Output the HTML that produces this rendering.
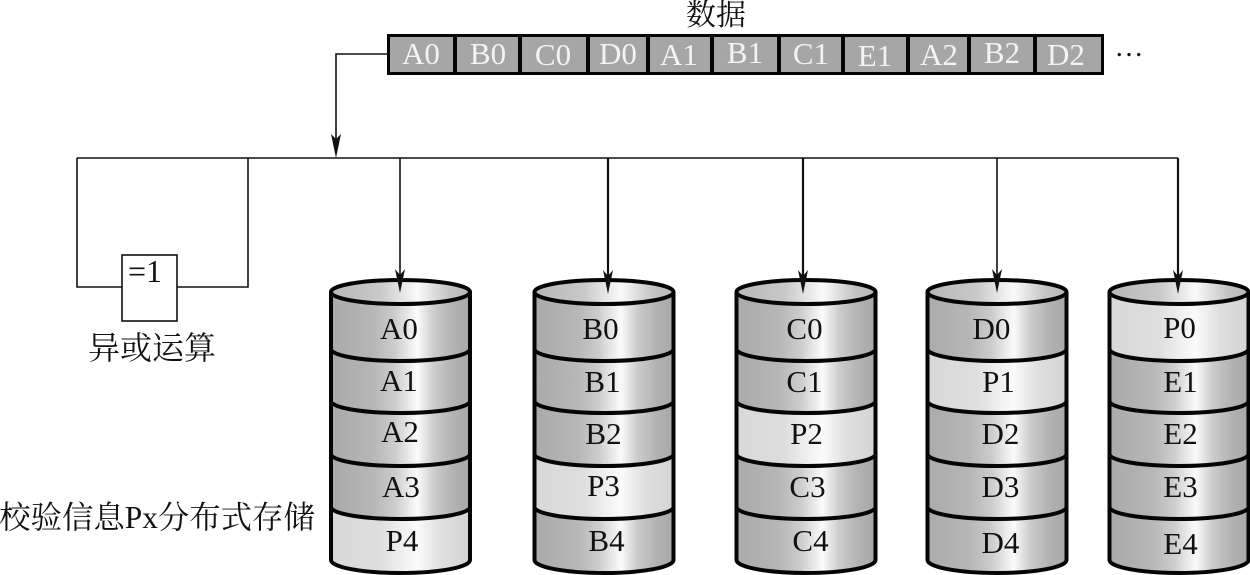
<!DOCTYPE html>
<html>
<head>
<meta charset="utf-8">
<style>
html,body{margin:0;padding:0;background:#fff;width:1250px;height:575px;overflow:hidden}
svg{display:block}
text{font-family:"Liberation Serif","Noto Serif CJK SC",serif;fill:#111}
.c{font-size:31px;text-anchor:middle}
.w{font-size:31px;text-anchor:middle;fill:#f4f4f4}
.l{stroke:#111;stroke-width:1.6;fill:none}
.b{stroke:#111;stroke-width:2.2;fill:none}
.o{stroke:#050505;stroke-width:4;fill:none}
</style>
</head>
<body>
<svg width="1250" height="575" viewBox="0 0 1250 575" xmlns="http://www.w3.org/2000/svg">
<defs>
<linearGradient id="g"><stop offset="0" stop-color="#aaaaaa"/><stop offset=".3" stop-color="#b6b6b6"/><stop offset=".46" stop-color="#cccccc"/><stop offset=".62" stop-color="#fbfbfb"/><stop offset=".74" stop-color="#cccccc"/><stop offset=".88" stop-color="#b2b2b2"/><stop offset="1" stop-color="#a8a8a8"/></linearGradient>
<linearGradient id="p"><stop offset="0" stop-color="#d8d8d8"/><stop offset=".35" stop-color="#dedede"/><stop offset=".62" stop-color="#fbfbfb"/><stop offset=".8" stop-color="#dedede"/><stop offset="1" stop-color="#d4d4d4"/></linearGradient>
<linearGradient id="t"><stop offset="0" stop-color="#b8b8b8"/><stop offset=".35" stop-color="#c8c8c8"/><stop offset=".62" stop-color="#fafafa"/><stop offset=".85" stop-color="#c4c4c4"/><stop offset="1" stop-color="#b8b8b8"/></linearGradient>
</defs>

<!-- data bar -->
<rect x="387" y="34" width="717" height="41" fill="#050505"/>
<g fill="#a6a6a6">
<rect x="390" y="37" width="63" height="35"/><rect x="457" y="37" width="61" height="35"/><rect x="522" y="37" width="64" height="35"/><rect x="590" y="37" width="56" height="35"/><rect x="650" y="37" width="60" height="35"/><rect x="714" y="37" width="63" height="35"/><rect x="781" y="37" width="60" height="35"/><rect x="845" y="37" width="61" height="35"/><rect x="910" y="37" width="57" height="35"/><rect x="971" y="37" width="62" height="35"/><rect x="1037" y="37" width="64" height="35"/>
</g>
<g>
<text class="w" x="421" y="64">A0</text><text class="w" x="488" y="64">B0</text><text class="w" x="553" y="65">C0</text><text class="w" x="618" y="64">D0</text><text class="w" x="679" y="65">A1</text><text class="w" x="745" y="63">B1</text><text class="w" x="811" y="64">C1</text><text class="w" x="875" y="66">E1</text><text class="w" x="939" y="65">A2</text><text class="w" x="1002" y="63">B2</text><text class="w" x="1066" y="65">D2</text>
</g>
<text x="716" y="25" font-size="30" text-anchor="middle">数据</text>
<text x="1129" y="56" font-size="29" text-anchor="middle">…</text>

<!-- bus -->
<path class="l" d="M388 54H336V140"/>
<path d="M336 158L331 134L336 139L341 134Z" fill="#111"/>
<path class="l" d="M77 158H1178"/>
<path class="l" d="M77 158V287H122M248 158V287H177"/>
<rect x="122" y="255" width="55" height="66" fill="#fff" stroke="#111" stroke-width="1.6"/>
<text x="145" y="282" font-size="32" text-anchor="middle">=1</text>
<text x="152" y="359" font-size="32" text-anchor="middle">异或运算</text>
<text x="157" y="528" font-size="31.400" text-anchor="middle">校验信息Px分布式存储</text>

<!-- cylinder 1 -->
<g transform="translate(331,0)">
<path d="M0 292V560A69.500 13 0 0 0 139 560V292Z" fill="url(#g)"/>
<path d="M0 507A69.500 12 0 0 0 139 507V560A69.500 13 0 0 1 0 560Z" fill="url(#p)"/>
<ellipse cx="69.500" cy="292" rx="69.500" ry="12" fill="url(#t)" stroke="#050505" stroke-width="4"/>
<path class="o" d="M0 349A69.500 12 0 0 0 139 349M0 401A69.500 12 0 0 0 139 401M0 454A69.500 12 0 0 0 139 454M0 507A69.500 12 0 0 0 139 507"/>
<path class="o" d="M0 292V560A69.500 13 0 0 0 139 560V292"/>
<text class="c" x="68" y="339">A0</text><text class="c" x="68" y="391">A1</text><text class="c" x="69" y="442">A2</text><text class="c" x="70" y="497">A3</text><text class="c" x="71" y="551">P4</text>
</g>
<!-- cylinder 2 -->
<g transform="translate(534.500,0)">
<path d="M0 292V560A69.500 13 0 0 0 139 560V292Z" fill="url(#g)"/>
<path d="M0 454A69.500 12 0 0 0 139 454V507A69.500 12 0 0 1 0 507Z" fill="url(#p)"/>
<ellipse cx="69.500" cy="292" rx="69.500" ry="12" fill="url(#t)" stroke="#050505" stroke-width="4"/>
<path class="o" d="M0 349A69.500 12 0 0 0 139 349M0 401A69.500 12 0 0 0 139 401M0 454A69.500 12 0 0 0 139 454M0 507A69.500 12 0 0 0 139 507"/>
<path class="o" d="M0 292V560A69.500 13 0 0 0 139 560V292"/>
<text class="c" x="66" y="339">B0</text><text class="c" x="68" y="392">B1</text><text class="c" x="69" y="444">B2</text><text class="c" x="69" y="496">P3</text><text class="c" x="72" y="551">B4</text>
</g>
<!-- cylinder 3 -->
<g transform="translate(736.500,0)">
<path d="M0 292V560A69.500 13 0 0 0 139 560V292Z" fill="url(#g)"/>
<path d="M0 401A69.500 12 0 0 0 139 401V454A69.500 12 0 0 1 0 454Z" fill="url(#p)"/>
<ellipse cx="69.500" cy="292" rx="69.500" ry="12" fill="url(#t)" stroke="#050505" stroke-width="4"/>
<path class="o" d="M0 349A69.500 12 0 0 0 139 349M0 401A69.500 12 0 0 0 139 401M0 454A69.500 12 0 0 0 139 454M0 507A69.500 12 0 0 0 139 507"/>
<path class="o" d="M0 292V560A69.500 13 0 0 0 139 560V292"/>
<text class="c" x="68" y="339">C0</text><text class="c" x="68" y="392">C1</text><text class="c" x="70" y="444">P2</text><text class="c" x="71" y="497">C3</text><text class="c" x="74" y="551">C4</text>
</g>
<!-- cylinder 4 -->
<g transform="translate(927.500,0)">
<path d="M0 292V560A69.500 13 0 0 0 139 560V292Z" fill="url(#g)"/>
<path d="M0 349A69.500 12 0 0 0 139 349V401A69.500 12 0 0 1 0 401Z" fill="url(#p)"/>
<ellipse cx="69.500" cy="292" rx="69.500" ry="12" fill="url(#t)" stroke="#050505" stroke-width="4"/>
<path class="o" d="M0 349A69.500 12 0 0 0 139 349M0 401A69.500 12 0 0 0 139 401M0 454A69.500 12 0 0 0 139 454M0 507A69.500 12 0 0 0 139 507"/>
<path class="o" d="M0 292V560A69.500 13 0 0 0 139 560V292"/>
<text class="c" x="64" y="339">D0</text><text class="c" x="71" y="392">P1</text><text class="c" x="73" y="444">D2</text><text class="c" x="73" y="497">D3</text><text class="c" x="73" y="553">D4</text>
</g>
<!-- cylinder 5 -->
<g transform="translate(1109.500,0)">
<path d="M0 292V560A69.500 13 0 0 0 139 560V292Z" fill="url(#g)"/>
<path d="M0 297V349A69.500 12 0 0 0 139 349V297Z" fill="url(#p)"/>
<ellipse cx="69.500" cy="292" rx="69.500" ry="12" fill="url(#t)" stroke="#050505" stroke-width="4"/>
<path class="o" d="M0 349A69.500 12 0 0 0 139 349M0 401A69.500 12 0 0 0 139 401M0 454A69.500 12 0 0 0 139 454M0 507A69.500 12 0 0 0 139 507"/>
<path class="o" d="M0 292V560A69.500 13 0 0 0 139 560V292"/>
<text class="c" x="70" y="338">P0</text><text class="c" x="71" y="392">E1</text><text class="c" x="71" y="444">E2</text><text class="c" x="71" y="497">E3</text><text class="c" x="71" y="554">E4</text>
</g>

<!-- drops with arrows -->
<path class="l" d="M400 158V285M997 158V285"/>
<path class="b" d="M608 158V285M803 158V285M1178 158V285"/>
<g fill="#111">
<path d="M400 293L395 269L400 275L405 269Z"/><path d="M608 294L603 270L608 276L613 270Z"/><path d="M803 294L798 270L803 276L808 270Z"/><path d="M997 293L992 269L997 275L1002 269Z"/><path d="M1178 294L1173 270L1178 276L1183 270Z"/>
</g>
</svg>
</body>
</html>
